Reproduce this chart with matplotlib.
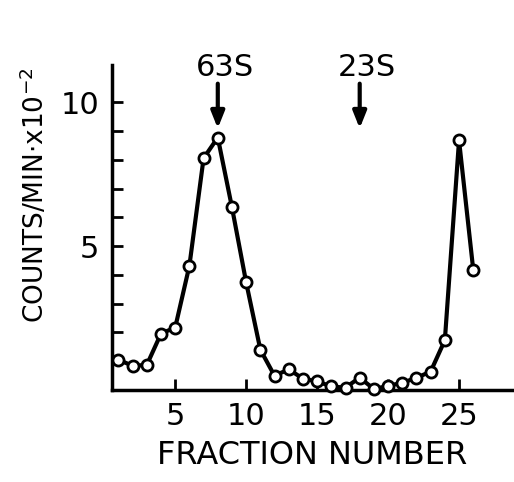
import matplotlib
matplotlib.use('Agg')
import matplotlib.pyplot as plt

fraction = list(range(1, 27))
counts = [1.05, 0.84, 0.87, 1.96, 2.17, 4.32, 8.06, 8.78, 6.35, 3.74,
          1.40, 0.49, 0.72, 0.39, 0.30, 0.12, 0.08, 0.43, 0.03, 0.14,
          0.25, 0.42, 0.64, 1.73, 8.68, 4.18]

markers = ['63S', '23S']
marker_pos = [8, 18]

fig = plt.figure(figsize=(5.14, 4.82), dpi=100)
ax = fig.add_axes([0.218, 0.191, 0.78, 0.674])

ax.plot(fraction, counts, color='black', linewidth=3.0, marker='o',
        markersize=8, markerfacecolor='white', markeredgecolor='black',
        markeredgewidth=2.0, zorder=3, clip_on=False)

for lab, xp in zip(markers, marker_pos):
    ax.annotate('', xy=(xp, 9.0), xytext=(xp, 10.75),
                arrowprops=dict(arrowstyle='-|>,head_width=0.4,head_length=1.0',
                                color='black', lw=3))
    ax.text(xp + 0.5, 11.2, lab, ha='center', va='center', fontsize=22)

ax.set_xlim(0.55, 28.8)
ax.set_ylim(0, 11.3)
ax.spines['top'].set_visible(False)
ax.spines['right'].set_visible(False)
ax.spines['left'].set_linewidth(2.5)
ax.spines['bottom'].set_linewidth(2.5)

ax.set_xticks([5, 10, 15, 20, 25])
ax.set_xticklabels(['5', '10', '15', '20', '25'])
ax.set_yticks([5, 10])
ax.set_yticks(range(1, 11), minor=True)
ax.tick_params(axis='both', direction='in', length=8, width=2, labelsize=22, pad=9)
ax.tick_params(axis='y', which='minor', direction='in', length=8, width=2)

ax.set_xlabel('FRACTION NUMBER', fontsize=23, labelpad=6)
ax.set_ylabel('COUNTS/MIN$\\cdot$x10$^{-2}$', fontsize=19)
ax.yaxis.set_label_coords(-0.155, 0.6)

fig.savefig('out.png', dpi=100)
